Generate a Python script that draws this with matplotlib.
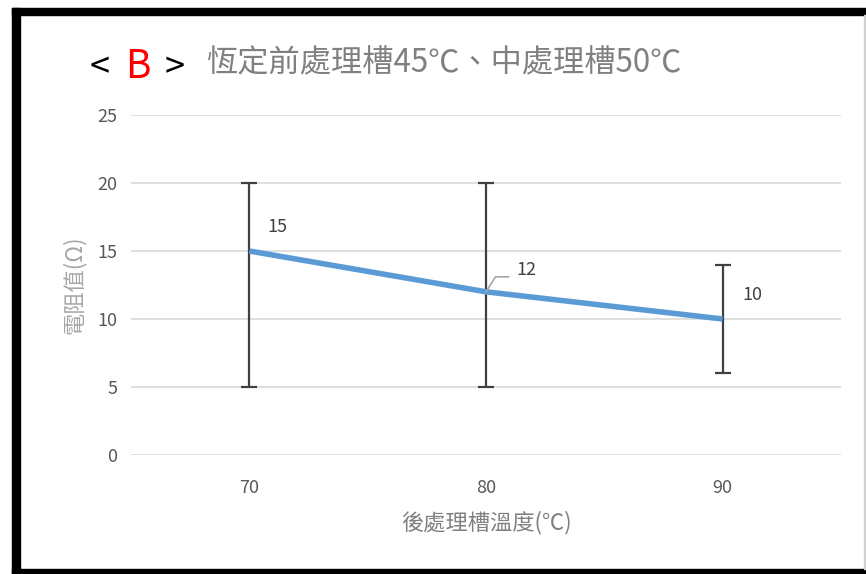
import matplotlib
matplotlib.use("Agg")
import matplotlib.pyplot as plt
from matplotlib.patches import Rectangle

plt.rcParams['font.family'] = ['Noto Sans CJK TC', 'DejaVu Sans']

categories = ["70", "80", "90"]
values = [15, 12, 10]
err_low = [5, 5, 6]
err_high = [20, 20, 14]
yticks = [0, 5, 10, 15, 20, 25]

W, H = 866, 574
fig = plt.figure(figsize=(W / 100, H / 100), dpi=100)
fig.patch.set_facecolor("white")

ax = fig.add_axes([131 / W, 1 - 455 / H, (841 - 131) / W, (455 - 115) / H])
x = list(range(len(categories)))
lower = [v - l for v, l in zip(values, err_low)]
upper = [h - v for v, h in zip(values, err_high)]

ax.set_ylim(0, 25)
ax.set_xlim(-0.5, len(categories) - 0.5)
ax.set_yticks(yticks)
ax.set_xticks(x)
ax.set_xticklabels(categories)
ax.grid(axis="y", color="#D9D9D9", linewidth=1.2)
ax.set_axisbelow(True)
for s in ax.spines.values():
    s.set_visible(False)
ax.tick_params(length=0, labelsize=13, colors="#595959")
ax.tick_params(axis="x", pad=17)
ax.tick_params(axis="y", pad=10)

ax.errorbar(x, values, yerr=[lower, upper], fmt="none", ecolor="#404040",
            elinewidth=1.6, capsize=6, capthick=1.6, zorder=2)
ax.plot(x, values, color="#5B9BD5", linewidth=4, solid_capstyle="butt", zorder=3)

# data labels
ax.annotate(str(values[0]), (x[0], values[0]), xytext=(13, 17), textcoords="offset points",
            fontsize=13, color="#404040", ha="left", va="center")
ax.annotate(str(values[1]), (x[1], values[1]), xytext=(22, 16), textcoords="offset points",
            fontsize=13, color="#404040", ha="left", va="center")
ax.plot([x[1], x[1] + 0.04, x[1] + 0.095], [values[1], values[1] + 1.1, values[1] + 1.1],
        color="#A6A6A6", linewidth=1.2, zorder=4)
ax.annotate(str(values[2]), (x[2], values[2]), xytext=(14, 17), textcoords="offset points",
            fontsize=13, color="#404040", ha="left", va="center")

ax.set_ylabel("電阻值(Ω)", fontsize=16, color="#A6A6A6", labelpad=8)
ax.set_xlabel("後處理槽溫度(℃)", fontsize=16, color="#808080", labelpad=10)

# title
fig.text(100 / W, 1 - 68 / H, "<", fontsize=26, color="black", ha="center", va="center")
fig.text(138 / W, 1 - 67 / H, "B", fontsize=28, color="#FF0000", ha="center", va="center")
fig.text(175 / W, 1 - 68 / H, ">", fontsize=26, color="black", ha="center", va="center")
fig.text(206 / W, 1 - 63 / H, "恆定前處理槽45℃、中處理槽50℃", fontsize=22.5, color="#808080",
         ha="left", va="center")

# frame borders
def rect(x0, y0, x1, y1, color):
    fig.patches.append(Rectangle((x0 / W, 1 - y1 / H), (x1 - x0) / W, (y1 - y0) / H,
                                 transform=fig.transFigure, color=color, zorder=10))

rect(12, 8, 866, 15, "black")
rect(12, 8, 20, 574, "black")
rect(12, 569, 866, 574, "black")
rect(864, 15, 866, 569, "#D0D0D0")

fig.savefig("out.png", dpi=100)
